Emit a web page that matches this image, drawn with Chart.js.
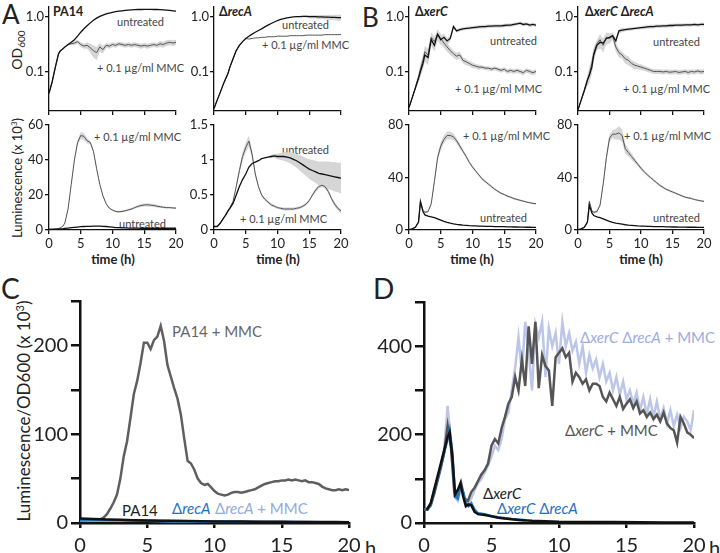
<!DOCTYPE html>
<html>
<head>
<meta charset="utf-8">
<script src="https://cdn.jsdelivr.net/npm/chart.js@4.4.0/dist/chart.umd.min.js"></script>
<style>
body { margin:0; width:720px; height:553px; position:relative; background:#fff; overflow:hidden; font-family:Lato, sans-serif; color:#222; }
canvas { position:absolute; }
.t { position:absolute; white-space:nowrap; line-height:1; transform:translateY(-50%); }
.v { position:absolute; white-space:nowrap; line-height:1; transform:translate(-50%,-50%) rotate(-90deg); }
.s { font-size:11px; color:#444; }
.ttl { font-size:12.5px; font-weight:bold; }
.xt { font-size:13px; font-weight:bold; transform:translate(-50%,-50%); }
.big { font-size:15px; }
</style>
</head>
<body>

<div class="t" style="left:2px;top:14px;font-size:26px;">A</div>
<div class="t" style="left:362px;top:17px;font-size:26px;">B</div>
<div class="t" style="left:1px;top:288px;font-size:28px;">C</div>
<div class="t" style="left:373px;top:288px;font-size:28px;">D</div>

<div class="t ttl" style="left:53px;top:12px;">PA14</div>
<div class="t ttl" style="left:219px;top:12px;">Δ<i>recA</i></div>
<div class="t ttl" style="left:415px;top:12px;">Δ<i>xerC</i></div>
<div class="t ttl" style="left:585px;top:12px;">Δ<i>xerC</i> Δ<i>recA</i></div>

<div class="v" style="left:18px;top:50px;font-size:14px;">OD<sub style="font-size:10px;">600</sub></div>
<div class="v" style="left:17px;top:178px;font-size:13px;">Luminescence (x 10<sup style="font-size:8px;">3</sup>)</div>
<div class="v" style="left:23px;top:411px;font-size:17px;">Luminescence/OD600 (x 10<sup style="font-size:11px;">3</sup>)</div>

<div class="t s" style="left:117px;top:21px;">untreated</div>
<div class="t s" style="left:97px;top:67px;">+ 0.1 µg/ml MMC</div>
<div class="t s" style="left:282px;top:24px;">untreated</div>
<div class="t s" style="left:262px;top:44px;">+ 0.1 µg/ml MMC</div>
<div class="t s" style="left:490px;top:40px;">untreated</div>
<div class="t s" style="left:455px;top:88px;">+ 0.1 µg/ml MMC</div>
<div class="t s" style="left:653px;top:41px;">untreated</div>
<div class="t s" style="left:623px;top:88px;">+ 0.1 µg/ml MMC</div>

<div class="t s" style="left:94px;top:136px;">+ 0.1 µg/ml MMC</div>
<div class="t s" style="left:119px;top:223px;">untreated</div>
<div class="t s" style="left:282px;top:149px;">untreated</div>
<div class="t s" style="left:240px;top:218px;">+ 0.1 µg/ml MMC</div>
<div class="t s" style="left:463px;top:135px;">+ 0.1 µg/ml MMC</div>
<div class="t s" style="left:480px;top:217px;">untreated</div>
<div class="t s" style="left:624px;top:135px;">+ 0.1 µg/ml MMC</div>
<div class="t s" style="left:653px;top:217px;">untreated</div>

<div class="t xt" style="left:113px;top:259px;">time (h)</div>
<div class="t xt" style="left:278px;top:259px;">time (h)</div>
<div class="t xt" style="left:472px;top:259px;">time (h)</div>
<div class="t xt" style="left:641px;top:259px;">time (h)</div>

<div class="t big" style="left:172px;top:331px;color:#666;">PA14 + MMC</div>
<div class="t big" style="left:122px;top:510px;color:#222;">PA14</div>
<div class="t big" style="left:172px;top:508px;color:#1f70c4;">Δ<i>recA</i></div>
<div class="t big" style="left:215px;top:508px;color:#93abdd;">Δ<i>recA</i> + MMC</div>

<div class="t big" style="left:580px;top:337px;color:#9cace0;">Δ<i>xerC</i> Δ<i>recA</i> + MMC</div>
<div class="t big" style="left:565px;top:430px;color:#555;">Δ<i>xerC</i> + MMC</div>
<div class="t big" style="left:483px;top:493px;color:#222;">Δ<i>xerC</i></div>
<div class="t big" style="left:497px;top:508px;color:#1f70c4;">Δ<i>xerC</i> Δ<i>recA</i></div>

<div class="t" style="left:365px;top:547px;font-size:20px;">h</div>
<div class="t" style="left:709px;top:547px;font-size:20px;">h</div>

<script>
// time points (h) for the small panels
const hoursTop = [0,0.5,1,1.5,1.8,2.2,2.5,3,3.5,4,
  4.5,5,5.5,6,6.5,7,7.5,8,8.5,9,
  9.5,10,10.5,11,11.5,12,12.5,13,13.5,14,
  14.5,15,15.5,16,16.5,17,17.5,18,18.5,19,
  19.5,20];

// A: PA14 OD600
const pa14OdUntreated = [0.04,0.065,0.12,0.21,0.24,0.26,0.28,0.31,0.34,0.38,
  0.44,0.52,0.6,0.68,0.77,0.86,0.94,1.01,1.07,1.12,
  1.16,1.2,1.23,1.26,1.28,1.3,1.32,1.33,1.34,1.35,
  1.35,1.36,1.36,1.36,1.35,1.35,1.34,1.33,1.32,1.3,
  1.28,1.26];
const pa14OdMmc = [0.04,0.065,0.12,0.21,0.24,0.26,0.28,0.31,0.32,0.33,
  0.35,0.31,0.29,0.3,0.27,0.24,0.22,0.28,0.25,0.3,
  0.29,0.31,0.3,0.32,0.31,0.3,0.31,0.3,0.31,0.3,
  0.29,0.3,0.29,0.3,0.31,0.3,0.32,0.31,0.33,0.34,
  0.33,0.34];
const pa14OdMmcErr = [0,0,0,0,0,0,0,0.01,0.02,0.03,
  0.03,0.03,0.03,0.04,0.05,0.06,0.06,0.05,0.04,0.03,
  0.03,0.03,0.03,0.03,0.03,0.03,0.03,0.03,0.03,0.03,
  0.03,0.03,0.03,0.03,0.03,0.03,0.04,0.04,0.04,0.04,
  0.04,0.04];

// A: recA OD600
const recAOdUntreated = [0.021,0.03,0.042,0.06,0.072,0.092,0.12,0.17,0.24,0.3,
  0.35,0.4,0.44,0.48,0.52,0.56,0.6,0.65,0.7,0.75,
  0.8,0.85,0.89,0.92,0.95,0.97,0.99,1.0,1.0,1.01,
  1.01,1.0,1.0,1.0,0.99,0.99,0.98,0.98,0.97,0.97,
  0.96,0.96];
const recAOdUntreatedErr = [0,0,0,0,0,0,0,0,0,0,
  0,0,0,0,0,0,0,0,0,0,
  0,0,0,0,0,0,0,0.02,0.03,0.04,
  0.05,0.06,0.07,0.07,0.08,0.08,0.09,0.1,0.1,0.11,
  0.12,0.13];
const recAOdMmc = [0.021,0.03,0.042,0.06,0.072,0.092,0.12,0.17,0.24,0.3,
  0.35,0.4,0.39,0.4,0.41,0.41,0.42,0.42,0.43,0.43,
  0.43,0.44,0.44,0.44,0.44,0.45,0.45,0.45,0.45,0.45,
  0.46,0.46,0.46,0.46,0.46,0.46,0.47,0.47,0.47,0.47,
  0.47,0.47];

// A: PA14 luminescence (x 10^3)
const pa14LumUntreated = [0.3,0.4,0.5,0.6,0.7,0.8,0.9,1.1,1.3,1.5,
  1.7,1.9,2.0,2.1,2.1,2.2,2.2,2.2,2.1,2.0,
  1.8,1.6,1.4,1.3,1.2,1.2,1.1,1.1,1.1,1.1,
  1.0,1.0,1.0,1.0,1.0,1.0,1.0,1.0,1.0,1.0,
  1.0,1.0];
const pa14LumMmc = [0.5,0.5,0.6,0.9,1.3,2.2,4,12,26,40,
  50,54,53.5,51,50,45,35,26,19.5,15,
  12.5,11.3,10.6,10.4,10.6,11,11.5,12,12.8,13.5,
  14,14.3,14.4,14.2,14,13.6,13.3,13,12.8,12.8,
  12.6,12.5];
const pa14LumMmcErr = [0,0,0,0,0,0,0,0.5,1,1,
  1.5,2,2,1.5,1,1,1,0.8,0.6,0.5,
  0.5,0.5,0.5,0.5,0.5,0.5,0.6,0.6,0.7,0.8,
  0.8,0.9,0.9,0.9,0.8,0.8,0.7,0.6,0.6,0.5,
  0.5,0.5];

// A: recA luminescence (x 10^3)
const recALumUntreated = [0.05,0.05,0.1,0.17,0.21,0.27,0.31,0.38,0.5,0.62,
  0.72,0.8,0.9,0.95,0.97,0.99,1.02,1.03,1.04,1.05,
  1.06,1.05,1.05,1.05,1.04,1.03,1.01,0.99,0.96,0.93,
  0.9,0.87,0.85,0.83,0.81,0.8,0.79,0.78,0.77,0.76,
  0.75,0.74];
const recALumUntreatedErr = [0,0,0,0,0,0,0,0,0,0,
  0,0,0,0,0,0,0,0,0,0.02,
  0.03,0.04,0.05,0.06,0.07,0.08,0.09,0.1,0.11,0.12,
  0.13,0.14,0.15,0.16,0.17,0.18,0.19,0.2,0.2,0.21,
  0.21,0.22];
const recALumMmc = [0.05,0.05,0.1,0.17,0.21,0.28,0.32,0.41,0.62,0.85,
  1.05,1.18,1.27,1.08,0.8,0.62,0.5,0.44,0.4,0.36,
  0.34,0.32,0.31,0.3,0.3,0.3,0.3,0.31,0.32,0.34,
  0.37,0.42,0.5,0.57,0.62,0.64,0.62,0.55,0.45,0.37,
  0.31,0.27];
const recALumMmcErr = [0,0,0,0,0,0,0,0,0.03,0.05,
  0.06,0.07,0.08,0.06,0.04,0.02,0.02,0.02,0.02,0.02,
  0.02,0.02,0.02,0.02,0.02,0.02,0.02,0.02,0.02,0.02,
  0.02,0.02,0.02,0.03,0.03,0.03,0.03,0.03,0.03,0.03,
  0.03,0.03];

// B: xerC OD600
const xerCOdUntreated = [0.022,0.033,0.05,0.075,0.1,0.14,0.2,0.18,0.38,0.3,
  0.48,0.38,0.42,0.36,0.4,0.66,0.55,0.58,0.6,0.61,
  0.62,0.63,0.64,0.65,0.66,0.66,0.67,0.67,0.68,0.68,
  0.68,0.69,0.7,0.7,0.72,0.74,0.76,0.72,0.74,0.7,
  0.72,0.7];
const xerOdUntreatedErr = [0,0,0.005,0.01,0.02,0.03,0.05,0.05,0.08,0.07,
  0.1,0.08,0.06,0.05,0.05,0.05,0.04,0.04,0.04,0.04,
  0.04,0.04,0.05,0.05,0.05,0.05,0.05,0.05,0.05,0.05,
  0.05,0.05,0.05,0.05,0.05,0.05,0.05,0.05,0.05,0.05,
  0.05,0.05];
const xerCOdMmc = [0.022,0.033,0.05,0.08,0.11,0.16,0.23,0.2,0.42,0.35,
  0.48,0.4,0.33,0.28,0.24,0.21,0.19,0.2,0.16,0.15,
  0.14,0.13,0.125,0.12,0.12,0.115,0.115,0.11,0.115,0.11,
  0.105,0.11,0.1,0.105,0.1,0.105,0.1,0.095,0.105,0.1,
  0.095,0.1];
const xerOdMmcErr = [0,0,0.005,0.015,0.03,0.04,0.06,0.06,0.1,0.08,
  0.1,0.08,0.06,0.05,0.04,0.03,0.03,0.03,0.02,0.02,
  0.015,0.015,0.012,0.012,0.01,0.01,0.01,0.01,0.01,0.01,
  0.01,0.01,0.01,0.01,0.01,0.01,0.01,0.01,0.01,0.01,
  0.01,0.01];

// B: xerC recA OD600
const xerCRecAOdUntreated = [0.02,0.03,0.045,0.07,0.085,0.12,0.2,0.3,0.34,0.33,
  0.4,0.42,0.45,0.36,0.55,0.57,0.58,0.59,0.6,0.61,
  0.62,0.63,0.64,0.65,0.66,0.66,0.67,0.67,0.68,0.68,
  0.69,0.69,0.7,0.7,0.7,0.71,0.71,0.71,0.72,0.71,
  0.72,0.72];
const xerCRecAOdMmc = [0.02,0.03,0.045,0.07,0.09,0.14,0.22,0.32,0.38,0.3,
  0.42,0.4,0.44,0.28,0.22,0.2,0.17,0.16,0.14,0.13,
  0.125,0.12,0.115,0.11,0.105,0.1,0.1,0.1,0.098,0.1,
  0.097,0.098,0.1,0.096,0.098,0.1,0.096,0.1,0.098,0.102,
  0.098,0.1];

// B: luminescence (x 10^3)
const xerCLumUntreated = [0.2,0.8,2,6,21.6,14,11.5,10.5,10,9.5,
  8.5,7.5,6.5,5.8,5.2,4.7,4.3,4,3.7,3.5,
  3.3,3.2,3.1,3,2.9,2.8,2.8,2.7,2.6,2.6,
  2.5,2.5,2.4,2.4,2.3,2.3,2.2,2.2,2.1,2.1,
  2.0,2.0];
const xerCLumMmc = [0.2,0.8,2,6,21.6,15,13.5,14,20,37,
  55,64,69,72,72,71,68,64,60,56,
  51.5,48,45,42,39,37,35,33,31,29.5,
  28,27,25.8,25,24,23.3,22.6,22,21.3,20.8,
  20.3,20];
const xerCLumMmcErr = [0,0,0,0,1,1,1,1,1.5,2,
  2.5,3,3,3,3,2.5,2,2,1.5,1.5,
  1.2,1.2,1,1,1,1,1,1,0.8,0.8,
  0.8,0.8,0.8,0.8,0.7,0.7,0.7,0.7,0.6,0.6,
  0.6,0.6];
const xerCRecALumUntreated = [0.2,0.8,2,6,19,13,11,10,9.5,8.5,
  7.5,6.5,5.8,5.2,4.8,4.4,4,3.7,3.5,3.3,
  3.1,3,2.9,2.8,2.7,2.6,2.6,2.5,2.5,2.4,
  2.4,2.3,2.3,2.2,2.2,2.2,2.1,2.1,2.1,2.0,
  2.0,2.0];
const xerCRecALumMmc = [0.2,0.8,2,6,22,14.5,13.5,14,19,35,
  55,70,73,73,74,72,62,59,56,53,
  50,47,44.5,42,40,38,36,34,32.5,31,
  30,29,28,27,26,25,24.5,24,23.2,22.7,
  22.2,21.8];
const xerCRecALumMmcErr = [0,0,0,0,1,1,1,1,1.5,2,
  3,3,3,4,5,5,4,3,2.5,2,
  1.5,1.5,1.2,1,1,1,1,1,0.8,0.8,
  0.8,0.8,0.8,0.8,0.7,0.7,0.7,0.7,0.6,0.6,
  0.6,0.6];

// C and D: luminescence / OD600 (x 10^3)
const hoursC = [0,0.25,0.5,0.75,1,1.25,1.5,1.75,
  2,2.25,2.5,2.75,3,3.25,3.5,3.75,
  4,4.25,4.5,4.75,5,5.25,5.5,5.75,
  6,6.25,6.5,6.75,7,7.25,7.5,7.75,
  8,8.25,8.5,8.75,9,9.25,9.5,9.75,
  10,10.25,10.5,10.75,11,11.25,11.5,11.75,
  12,12.25,12.5,12.75,13,13.25,13.5,13.75,
  14,14.25,14.5,14.75,15,15.25,15.5,15.75,
  16,16.25,16.5,16.75,17,17.25,17.5,17.75,
  18,18.25,18.5,18.75,19,19.25,19.5,19.75,
  20];
const pa14MmcRatio = [4,4,4,4,3.8,3.8,4,6,
  10,16,23,32,50,75,92,118,
  145,160,180,203,203,196,206,210,
  222,205,178,165,152,140,122,95,
  70,67,60,50,45,43,44,40,
  36,33,32,31,32,34,35,35,
  34,35,36,37,38,40,42,44,
  45,46,47,47,48,48,49,48,
  49,48,47,48,46,46,45,44,
  41,39,38,37,37,38,37,38,
  37];
const hoursCFlat = [0,1,2,3,4,5,6,7,8,9,10,11,12,13,14,15,16,17,18,19,20];
const pa14Ratio = [5,4.5,4,3.6,3.2,2.9,2.6,2.4,2.2,2,1.8,1.7,1.6,1.5,1.4,1.3,1.2,1.1,1,1,0.9];
const recARatio = [3,3.5,3.2,3,2.8,2.5,2.3,2.1,1.9,1.8,1.6,1.5,1.4,1.3,1.2,1.1,1,1,0.9,0.9,0.8];
const recAMmcRatio = [2.5,3,3,2.8,2.6,2.4,2.2,2,1.8,1.7,1.5,1.4,1.3,1.2,1.1,1,1,0.9,0.9,0.8,0.8];

const xerCMmcRatio = [30,30,40,65,95,125,160,220,
  170,70,60,90,55,50,70,80,
  95,110,120,135,175,190,180,215,
  240,270,285,330,300,370,310,445,
  360,455,305,380,355,345,265,375,
  385,395,375,385,320,340,330,315,
  325,300,315,315,310,285,275,295,
  280,265,285,258,270,280,260,275,
  248,255,240,250,235,245,230,250,
  225,215,210,182,240,225,205,200,
  192];
const xerCRecAMmcRatio = [30,30,42,68,98,130,170,265,
  180,60,50,80,60,45,55,75,
  90,100,115,130,150,175,165,190,
  235,250,300,350,420,340,455,390,
  300,450,420,455,330,440,400,430,
  360,455,400,430,390,410,360,400,
  340,380,350,370,330,360,320,340,
  300,330,290,320,280,300,270,295,
  255,285,245,280,240,275,235,260,
  225,255,220,245,215,240,230,210,
  255];
const hoursXerC = [0.2,0.5,0.75,1,1.25,1.5,1.75,1.9,2.1,2.3,2.5,2.7,2.9,3.1,3.3,3.5,3.75,4,4.5,5,5.5,6,7,8,9,10,12,14,16,18,20];
const xerCRatio = [30,45,75,105,135,165,195,205,150,65,75,90,60,38,42,40,25,20,18,15,12,10,7,5,4,3,2.5,2,1.5,1.2,1];
const hoursXerCRecA = [0.2,0.5,0.75,1,1.25,1.5,1.75,1.9,2.1,2.3,2.5,2.7,2.9,3.1,3.3,3.5,3.75,4,4.5,5,5.5,6,6.5,7,7.5];
const xerCRecARatio = [30,42,72,100,130,160,190,210,160,60,55,85,70,45,38,45,30,22,20,16,13,11,9,8,6];

const odTicks = [0.1, 1];

Chart.defaults.font.family = 'Lato, sans-serif';
Chart.defaults.color = '#222';

function pts(ts, vs) {
  return ts.map((t, i) => ({ x: t, y: vs[i] }));
}
function line(ts, vs, color, width, order) {
  return { data: pts(ts, vs), borderColor: color, borderWidth: width, pointRadius: 0, fill: false, order: order };
}
function band(ts, vs, es, floor) {
  const hi = ts.map((t, i) => ({ x: t, y: vs[i] + es[i] }));
  const lo = ts.map((t, i) => ({ x: t, y: Math.max(vs[i] - es[i], floor) }));
  return [
    { data: hi, borderWidth: 0, pointRadius: 0, fill: false, order: 9 },
    { data: lo, borderWidth: 0, pointRadius: 0, fill: '-1', backgroundColor: '#d6d6d6', order: 9 }
  ];
}

function axisLook(w, tl) {
  return {
    border: { color: '#111', width: w },
    grid: { display: true, drawOnChartArea: false, drawTicks: true, tickLength: tl, color: '#111', lineWidth: w }
  };
}

function xSmall(showLabels) {
  return Object.assign({
    type: 'linear', min: 0, max: 20,
    ticks: { display: showLabels, stepSize: 5, padding: 2, font: { size: 13 }, maxRotation: 0, autoSkip: false, color: '#222' }
  }, axisLook(1.3, 4));
}
function yOd() {
  return Object.assign({
    type: 'logarithmic', min: 0.019, max: 1.5,
    afterBuildTicks: s => { s.ticks = odTicks.map(v => ({ value: v })); },
    ticks: { padding: 1, font: { size: 13 }, color: '#222', callback: v => Number(v).toFixed(1) }
  }, axisLook(1.3, 4));
}
function yLin(max, step) {
  return Object.assign({
    type: 'linear', min: 0, max: max,
    ticks: { stepSize: step, padding: 2, font: { size: 13 }, color: '#222', callback: v => String(Math.round(v * 10) / 10) }
  }, axisLook(1.3, 4));
}

function panel(g, datasets, xOpts, yOpts) {
  const c = document.createElement('canvas');
  c.width = g.yw + (g.r - g.l) + g.pr;
  c.height = g.pt + (g.b - g.t) + g.xh;
  c.style.left = (g.l - g.yw) + 'px';
  c.style.top = (g.t - g.pt) + 'px';
  document.body.appendChild(c);
  xOpts.afterFit = s => { s.height = g.xh; };
  yOpts.afterFit = s => { s.width = g.yw; };
  new Chart(c, {
    type: 'line',
    data: { datasets: datasets },
    options: {
      responsive: false, animation: false, devicePixelRatio: 1, events: [],
      layout: { padding: { top: g.pt, right: g.pr, left: 0, bottom: 0 } },
      plugins: { legend: { display: false }, tooltip: { enabled: false } },
      elements: { line: { tension: 0 } },
      scales: { x: xOpts, y: yOpts }
    }
  });
}

const odBox = (l, r) => ({ l: l, r: r, t: 7, b: 111, yw: 40, pt: 12, pr: 12, xh: 12 });
const lumBox = (l, r) => ({ l: l, r: r, t: 125, b: 230, yw: 40, pt: 12, pr: 12, xh: 26 });
const grey = '#555', black = '#111';

// A, OD
panel(odBox(49, 176), [
  line(hoursTop, pa14OdUntreated, black, 1.3, 1),
  line(hoursTop, pa14OdMmc, grey, 1, 2),
  ...band(hoursTop, pa14OdMmc, pa14OdMmcErr, 0.02)
], xSmall(false), yOd());
panel(odBox(214, 341), [
  line(hoursTop, recAOdUntreated, black, 1.3, 1),
  line(hoursTop, recAOdMmc, grey, 1, 2),
  ...band(hoursTop, recAOdUntreated, recAOdUntreatedErr, 0.02)
], xSmall(false), yOd());
// B, OD
panel(odBox(409, 536), [
  line(hoursTop, xerCOdUntreated, black, 1.3, 1),
  line(hoursTop, xerCOdMmc, grey, 1, 2),
  ...band(hoursTop, xerCOdMmc, xerOdMmcErr, 0.02),
  ...band(hoursTop, xerCOdUntreated, xerOdUntreatedErr, 0.02)
], xSmall(false), yOd());
panel(odBox(578, 704), [
  line(hoursTop, xerCRecAOdUntreated, black, 1.3, 1),
  line(hoursTop, xerCRecAOdMmc, grey, 1, 2),
  ...band(hoursTop, xerCRecAOdMmc, xerOdMmcErr, 0.02),
  ...band(hoursTop, xerCRecAOdUntreated, xerOdUntreatedErr, 0.02)
], xSmall(false), yOd());

// A, luminescence
panel(lumBox(49, 176), [
  line(hoursTop, pa14LumUntreated, black, 1.3, 1),
  line(hoursTop, pa14LumMmc, grey, 1, 2),
  ...band(hoursTop, pa14LumMmc, pa14LumMmcErr, 0)
], xSmall(true), yLin(60, 20));
panel(lumBox(214, 341), [
  line(hoursTop, recALumUntreated, black, 1.3, 1),
  line(hoursTop, recALumMmc, grey, 1, 2),
  ...band(hoursTop, recALumUntreated, recALumUntreatedErr, 0),
  ...band(hoursTop, recALumMmc, recALumMmcErr, 0)
], xSmall(true), yLin(1.5, 0.5));
// B, luminescence
panel(lumBox(409, 536), [
  line(hoursTop, xerCLumUntreated, black, 1.3, 1),
  line(hoursTop, xerCLumMmc, grey, 1, 2),
  ...band(hoursTop, xerCLumMmc, xerCLumMmcErr, 0)
], xSmall(true), yLin(80, 40));
panel(lumBox(578, 704), [
  line(hoursTop, xerCRecALumUntreated, black, 1.3, 1),
  line(hoursTop, xerCRecALumMmc, grey, 1, 2),
  ...band(hoursTop, xerCRecALumMmc, xerCRecALumMmcErr, 0)
], xSmall(true), yLin(80, 40));

// C and D
function xBig() {
  return Object.assign({
    type: 'linear', min: 0, max: 20,
    ticks: { stepSize: 5, padding: 6, font: { size: 20 }, maxRotation: 0, autoSkip: false, color: '#222' }
  }, axisLook(2.5, 5));
}
function yBig(max, step, labelEvery) {
  return Object.assign({
    type: 'linear', min: 0, max: max,
    ticks: { stepSize: step, padding: 3, font: { size: 20 }, color: '#222',
      callback: v => (v % labelEvery === 0 && v < max) ? String(v) : '' }
  }, axisLook(2.5, 9));
}

panel({ l: 80, r: 349, t: 300, b: 523, yw: 75, pt: 14, pr: 20, xh: 32 }, [
  line(hoursCFlat, pa14Ratio, black, 2.5, 1),
  line(hoursCFlat, recARatio, '#1f78c8', 2.5, 2),
  line(hoursCFlat, recAMmcRatio, '#9bb3e2', 2.5, 3),
  line(hoursC, pa14MmcRatio, '#5f5f5f', 2.5, 4)
], xBig(), yBig(250, 50, 100));

panel({ l: 424, r: 694, t: 301, b: 523, yw: 60, pt: 14, pr: 20, xh: 32 }, [
  line(hoursXerC, xerCRatio, black, 2.5, 1),
  line(hoursXerCRecA, xerCRecARatio, '#1f78c8', 2.5, 2),
  line(hoursC, xerCMmcRatio, '#555', 2.5, 3),
  line(hoursC, xerCRecAMmcRatio, '#bcc6e8', 2.5, 4)
], xBig(), yBig(500, 100, 200));
</script>
</body>
</html>
